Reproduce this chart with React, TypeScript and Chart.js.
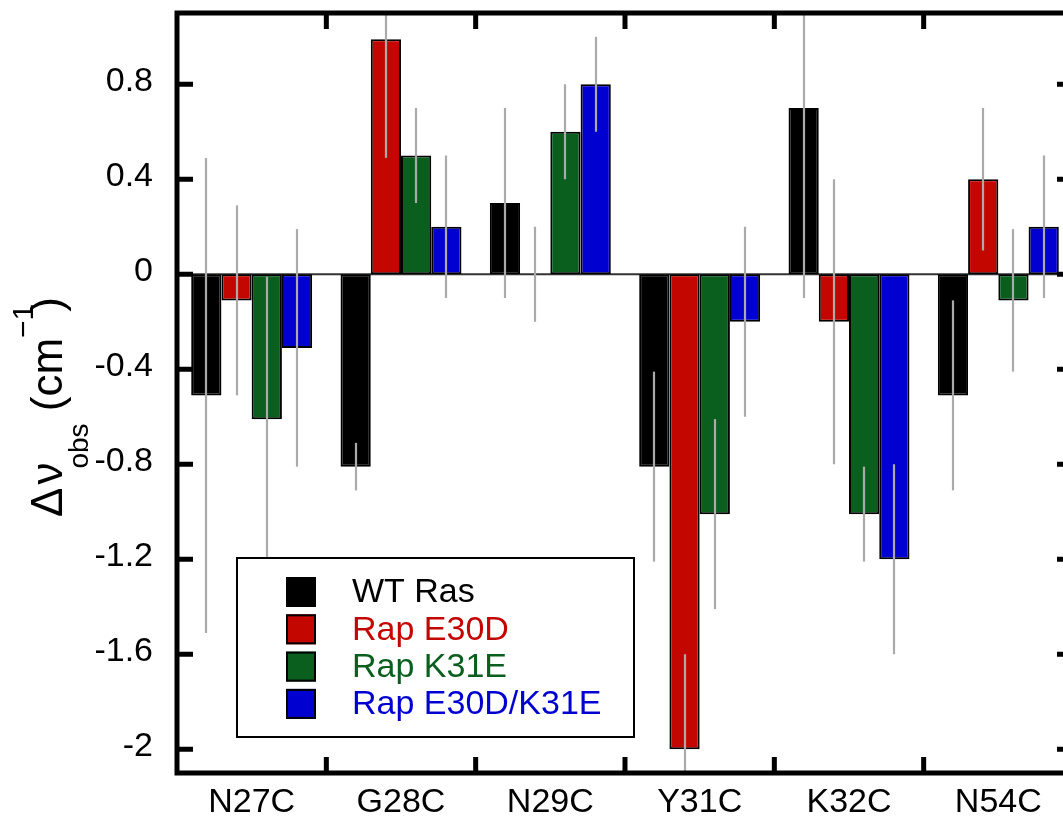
import React, { useEffect, useRef } from "react";
import { Chart, registerables } from "chart.js";

Chart.register(...registerables);

const categories = ["N27C", "G28C", "N29C", "Y31C", "K32C", "N54C"];
const seriesNames = ["WT Ras", "Rap E30D", "Rap K31E", "Rap E30D/K31E"];
const seriesColors = ["#000000", "#c40600", "#0a5e1e", "#0000d0"];

const wtRas = [-0.51, -0.81, 0.3, -0.81, 0.7, -0.51];
const wtRasErr = [1.0, 0.1, 0.4, 0.4, 0.8, 0.4];
const rapE30D = [-0.11, 0.99, 0, -2.0, -0.2, 0.4];
const rapE30DErr = [0.4, 0.5, 0.2, 0.4, 0.6, 0.3];
const rapK31E = [-0.61, 0.5, 0.6, -1.01, -1.01, -0.11];
const rapK31EErr = [0.6, 0.2, 0.2, 0.4, 0.2, 0.3];
const rapE30DK31E = [-0.31, 0.2, 0.8, -0.2, -1.2, 0.2];
const rapE30DK31EErr = [0.5, 0.3, 0.2, 0.4, 0.4, 0.3];

const seriesValues = [wtRas, rapE30D, rapK31E, rapE30DK31E];
const seriesErrors = [wtRasErr, rapE30DErr, rapK31EErr, rapE30DK31EErr];

const yTickValues = [0.8, 0.4, 0, -0.4, -0.8, -1.2, -1.6, -2];
const yTickLabels = ["0.8", "0.4", "0", "-0.4", "-0.8", "-1.2", "-1.6", "-2"];
const yMin = -2.1;
const yMax = 1.1;

const FONT = "'Liberation Sans', Arial, Helvetica, sans-serif";

const decorPlugin = {
  id: "decor",
  beforeDatasetsDraw(chart: any) {
    const { ctx, chartArea: a } = chart;
    const y = chart.scales.y;
    const y0 = y.getPixelForValue(0);
    ctx.save();
    ctx.strokeStyle = "#333333";
    ctx.lineWidth = 2;
    ctx.beginPath();
    ctx.moveTo(a.left, y0);
    ctx.lineTo(a.right, y0);
    ctx.stroke();
    ctx.restore();
  },
  afterDatasetsDraw(chart: any) {
    const { ctx, chartArea: a } = chart;
    const y = chart.scales.y;
    ctx.save();
    ctx.beginPath();
    ctx.rect(a.left, a.top, a.right - a.left, a.bottom - a.top);
    ctx.clip();
    ctx.strokeStyle = "#aaaaaa";
    ctx.lineWidth = 2.2;
    chart.data.datasets.forEach((ds: any, di: number) => {
      const meta = chart.getDatasetMeta(di);
      const errs = seriesErrors[di];
      meta.data.forEach((bar: any, i: number) => {
        const v = ds.data[i];
        const e = errs[i];
        const x = Math.round(bar.x);
        ctx.beginPath();
        ctx.moveTo(x, y.getPixelForValue(v + e));
        ctx.lineTo(x, y.getPixelForValue(v - e));
        ctx.stroke();
      });
    });
    ctx.restore();
  },
  afterDraw(chart: any) {
    const { ctx, chartArea: a } = chart;
    const y = chart.scales.y;
    const xs = chart.scales.x;
    ctx.save();
    // frame
    ctx.strokeStyle = "#000";
    ctx.lineWidth = 5;
    ctx.strokeRect(a.left, a.top, a.right - a.left, a.bottom - a.top);
    // inward ticks
    const tl = 16;
    ctx.beginPath();
    yTickValues.forEach((v) => {
      const py = y.getPixelForValue(v);
      ctx.moveTo(a.left, py);
      ctx.lineTo(a.left + tl, py);
      ctx.moveTo(a.right, py);
      ctx.lineTo(a.right - tl, py);
    });
    for (let i = 1; i < categories.length; i++) {
      const px = (xs.getPixelForValue(i - 1) + xs.getPixelForValue(i)) / 2;
      ctx.moveTo(px, a.top);
      ctx.lineTo(px, a.top + tl);
      ctx.moveTo(px, a.bottom);
      ctx.lineTo(px, a.bottom - tl);
    }
    ctx.stroke();

    // legend
    const bx = a.left + 60;
    const by = 558;
    const bw = 397;
    const bh = 179;
    ctx.fillStyle = "#fff";
    ctx.fillRect(bx, by, bw, bh);
    ctx.lineWidth = 2;
    ctx.strokeStyle = "#000";
    ctx.strokeRect(bx, by, bw, bh);
    ctx.font = `34px ${FONT}`;
    ctx.textBaseline = "middle";
    ctx.textAlign = "left";
    seriesNames.forEach((name, i) => {
      const cy = by + 34 + i * 37.3;
      ctx.fillStyle = seriesColors[i];
      ctx.fillRect(bx + 49, cy - 15, 30, 30);
      ctx.lineWidth = 2;
      ctx.strokeStyle = "#000";
      ctx.strokeRect(bx + 50, cy - 14, 28, 28);
      ctx.fillStyle = seriesColors[i];
      ctx.fillText(name, bx + 115, cy + 1);
    });

    // y title
    ctx.translate(62, 517);
    ctx.rotate(-Math.PI / 2);
    ctx.fillStyle = "#000";
    ctx.textBaseline = "alphabetic";
    let cx = 0;
    ctx.font = `44px ${FONT}`;
    ctx.fillText("Δ", cx, 0);
    cx += ctx.measureText("Δ").width + 3;
    ctx.fillText("ν", cx, 0);
    cx += ctx.measureText("ν").width;
    ctx.font = `28px ${FONT}`;
    ctx.fillText("obs", cx - 6, 26);
    cx += ctx.measureText("obs").width - 6;
    ctx.font = `44px ${FONT}`;
    ctx.fillText(" (cm", cx, 0);
    cx += ctx.measureText(" (cm").width;
    ctx.font = `30px ${FONT}`;
    ctx.fillText("−1", cx, -29);
    cx += ctx.measureText("−1").width - 8;
    ctx.font = `44px ${FONT}`;
    ctx.fillText(")", cx, 0);
    ctx.restore();
  },
};

export default function App() {
  const ref = useRef<HTMLCanvasElement | null>(null);
  useEffect(() => {
    if (!ref.current) return;
    const chart = new Chart(ref.current, {
      type: "bar",
      data: {
        labels: categories,
        datasets: seriesNames.map((name, i) => ({
          label: name,
          data: seriesValues[i],
          backgroundColor: seriesColors[i],
          borderColor: "#000000",
          borderWidth: 2,
          borderSkipped: false,
          categoryPercentage: 0.81,
          barPercentage: 1,
        })),
      },
      options: {
        animation: false,
        responsive: false,
        devicePixelRatio: 1,
        layout: { padding: { top: 13, right: 7, left: 0, bottom: 0 } },
        plugins: { legend: { display: false }, tooltip: { enabled: false } },
        scales: {
          x: {
            grid: { display: false, drawTicks: false },
            border: { display: false },
            ticks: {
              color: "#000",
              font: { size: 34, family: FONT },
              padding: 9,
              maxRotation: 0,
              autoSkip: false,
            },
            afterFit(scale: any) {
              scale.height = 47;
              scale.paddingLeft = 0;
              scale.paddingRight = 0;
              scale.paddingTop = 0;
              scale.paddingBottom = 0;
            },
          },
          y: {
            min: yMin,
            max: yMax,
            grid: { display: false, drawTicks: false },
            border: { display: false },
            ticks: {
              color: "#000",
              font: { size: 34, family: FONT },
              padding: 24,
              labelOffset: -3,
              callback: (v: any) => {
                const idx = yTickValues.findIndex((t) => Math.abs(t - Number(v)) < 1e-9);
                return idx >= 0 ? yTickLabels[idx] : "";
              },
            },
            afterBuildTicks(scale: any) {
              scale.ticks = yTickValues.map((v) => ({ value: v }));
            },
            afterFit(scale: any) {
              scale.width = 177;
              scale.paddingLeft = 0;
              scale.paddingRight = 0;
              scale.paddingTop = 0;
              scale.paddingBottom = 0;
            },
          },
        },
      },
      plugins: [decorPlugin],
    });
    return () => chart.destroy();
  }, []);
  return (
    <div style={{ position: "fixed", left: 0, top: 0, width: 1063, height: 820, overflow: "hidden", background: "#fff" }}>
      <canvas ref={ref} width={1080} height={820} style={{ position: "absolute", left: 0, top: 0, width: 1080, height: 820 }} />
    </div>
  );
}
